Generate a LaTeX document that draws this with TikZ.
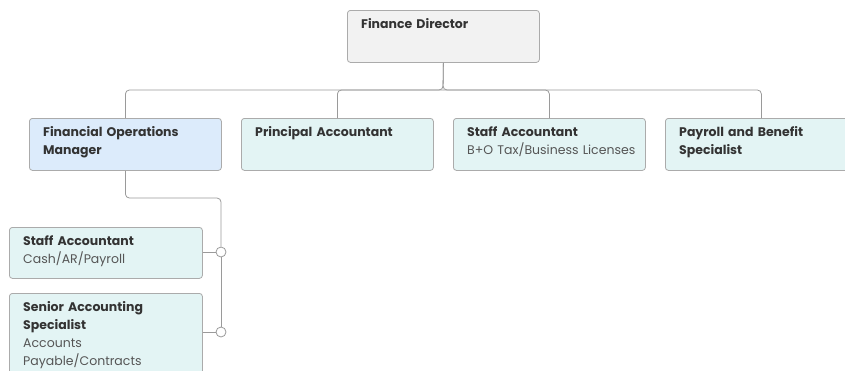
\documentclass[tikz,border=0pt]{standalone}
\usepackage{fontspec}
\setmainfont{Poppins}
\definecolor{txt}{HTML}{333333}
\definecolor{sub}{HTML}{555555}
\definecolor{bord}{HTML}{ABABAB}
\definecolor{line}{HTML}{9A9A9A}
\definecolor{grayfill}{HTML}{F2F2F2}
\definecolor{bluefill}{HTML}{DCEBFB}
\definecolor{tealfill}{HTML}{E3F4F4}
\begin{document}
\begin{tikzpicture}[x=1pt,y=-1pt,
  box/.style={draw=bord, line width=0.8pt, rounded corners=3pt, minimum width=192pt, minimum height=52pt, anchor=north west, inner sep=0pt},
  lbl/.style={anchor=north west, align=left, inner sep=0pt, text=txt, font=\fontsize{12.5}{18}\selectfont, text width=178pt},
  conn/.style={draw=line, line width=0.8pt, rounded corners=4pt},
  dot/.style={circle, draw=line, line width=0.8pt, fill=white, minimum size=10pt, inner sep=0pt}]
\useasboundingbox (0,0) rectangle (845,370);
\node[box, fill=grayfill] (fd) at (347,10) {};
\node[box, fill=bluefill] (fom) at (29,118) {};
\node[box, fill=tealfill] (pa) at (241,118) {};
\node[box, fill=tealfill] (sa1) at (453,118) {};
\node[box, fill=tealfill] (pb) at (665,118) {};
\node[box, fill=tealfill, minimum width=193pt, minimum height=51pt] (sa2) at (9,227) {};
\node[box, fill=tealfill, minimum width=193pt, minimum height=90pt] (sas) at (9,293) {};

\node[lbl] (fdt) at ([shift={(14,8.5)}]fd.north west) {\textbf{Finance Director}};
\node[lbl] (fomt) at ([shift={(14,8.5)}]fom.north west) {\textbf{Financial Operations}\\\textbf{Manager}};
\node[lbl] (pat) at ([shift={(14,8.5)}]pa.north west) {\textbf{Principal Accountant}};
\node[lbl] (sa1t) at ([shift={(14,8.5)}]sa1.north west) {\textbf{Staff Accountant}\\\textcolor{sub}{B+O Tax/Business Licenses}};
\node[lbl] (pbt) at ([shift={(14,8.5)}]pb.north west) {\textbf{Payroll and Benefit}\\\textbf{Specialist}};
\node[lbl] (sa2t) at ([shift={(14,8.5)}]sa2.north west) {\textbf{Staff Accountant}\\\textcolor{sub}{Cash/AR/Payroll}};
\node[lbl] (sast) at ([shift={(14,8.5)}]sas.north west) {\textbf{Senior Accounting}\\\textbf{Specialist}\\\textcolor{sub}{Accounts}\\\textcolor{sub}{Payable/Contracts}};

\coordinate (hub) at (443,90);
\draw[conn] (fd.south) -- (hub) -| (fom.north);
\draw[conn] (fd.south) -- (hub) -| (pb.north);
\draw[conn] (hub) -| (pa.north);
\draw[conn] (hub) -| (sa1.north);

\node[dot] (d1) at (221,252) {};
\node[dot] (d2) at (221,332) {};
\draw[conn] (fom.south) |- (170,198) -| (d1.north);
\draw[line, line width=0.8pt] (d1.south) -- (d2.north);
\draw[line, line width=0.8pt] (sa2.east |- d1) -- (d1.west);
\draw[line, line width=0.8pt] (sas.east |- d2) -- (d2.west);
\end{tikzpicture}
\end{document}
